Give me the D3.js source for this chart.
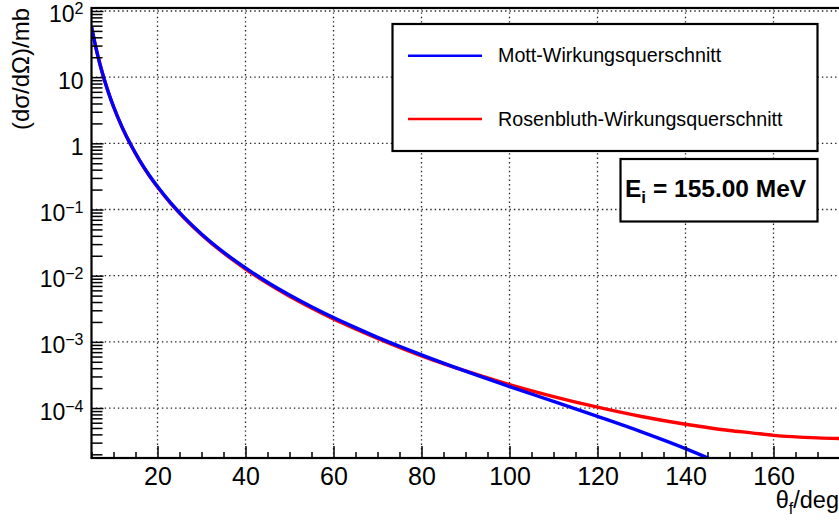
<!DOCTYPE html>
<html><head><meta charset="utf-8">
<script src="https://cdn.jsdelivr.net/npm/d3@7"></script>
<style>
body{margin:0;background:#fff;}
svg{display:block;font-family:"Liberation Sans",Arial,Helvetica,sans-serif;}
</style></head><body>
<svg id="chart" width="839" height="520"></svg>
<script>
// ---- data ----
const anglesMott = [5,6,7,8,9,10,12,14,16,18,20,23,26,30,35,40,45,50,55,60,65,70,75,80,90,100,110,120,130,140,145,150,155];
const mott = [57.9,27.9,15.0,8.81,5.50,3.60,1.73,0.933,0.545,0.339,0.222,0.126,0.0766,0.0427,0.0227,0.0131,0.00797,0.00511,0.00340,0.00233,0.00164,0.00117,0.000857,0.000635,0.000360,0.000211,0.000126,0.0000748,0.0000437,0.0000244,0.0000177,0.0000124,0.0000083];
const anglesRosen = [5,6,7,8,9,10,12,14,16,18,20,23,26,30,35,40,45,50,55,60,65,70,75,80,90,100,110,120,130,140,145,150,155,160,170,180];
const rosenbluth = [57.8,27.8,15.0,8.78,5.48,3.58,1.72,0.926,0.540,0.335,0.219,0.124,0.0751,0.0417,0.0220,0.0126,0.00765,0.00489,0.00325,0.00222,0.00157,0.00113,0.000827,0.000616,0.000363,0.000226,0.000149,0.000103,0.0000745,0.0000569,0.0000508,0.0000458,0.0000422,0.0000387,0.0000354,0.0000343];
const xTickValues = [20,40,60,80,100,120,140,160];
const xTickLabels = ["20","40","60","80","100","120","140","160"];
const yTickValues = [1e-4,1e-3,1e-2,1e-1,1,10,100];
const yTickBase = ["10","10","10","10","1","10","10"];
const yTickExp  = ["\u22124","\u22123","\u22122","\u22121","","","2"];
const seriesNames = ["Mott-Wirkungsquerschnitt","Rosenbluth-Wirkungsquerschnitt"];
const seriesColors = ["#0000ff","#ff0000"];

// ---- layout ----
const L = 91.5, T = 8, B = 458;
const pxPerDeg = 4.4;
const R = L + (180-5)*pxPerDeg;
const svg = d3.select("#chart");
const x = d3.scaleLinear().domain([5,180]).range([L,R]);
const y = d3.scaleLog().domain([Math.pow(10,-4.755), Math.pow(10,2.045)]).range([B,T]);

svg.append("defs").append("clipPath").attr("id","clip")
  .append("rect").attr("x",L).attr("y",T).attr("width",R-L).attr("height",B-T);

// grid
const grid = svg.append("g").attr("stroke","#222").attr("stroke-width",1.3).attr("stroke-dasharray","1.4,3");
grid.selectAll("line.gx").data(xTickValues).join("line")
  .attr("x1",d=>x(d)).attr("x2",d=>x(d)).attr("y1",T).attr("y2",B);
grid.selectAll("line.gy").data(yTickValues).join("line")
  .attr("x1",L).attr("x2",R).attr("y1",d=>y(d)).attr("y2",d=>y(d));

// curves
const line = d3.line().curve(d3.curveMonotoneX);
const gc = svg.append("g").attr("clip-path","url(#clip)").attr("fill","none").attr("stroke-width",3.4);
gc.append("path").attr("stroke",seriesColors[1])
  .attr("d", line(anglesRosen.map((a,i)=>[x(a), y(rosenbluth[i])])));
gc.append("path").attr("stroke",seriesColors[0])
  .attr("d", line(anglesMott.map((a,i)=>[x(a), y(mott[i])])));

// axes
const fontTick = 25;
const xMinor = d3.range(5,176,5).filter(d=>!xTickValues.includes(d));
svg.append("g").attr("transform",`translate(0,${B})`)
  .call(d3.axisBottom(x).tickValues(xMinor).tickSize(-6).tickFormat(""));
const gxMajor = svg.append("g").attr("transform",`translate(0,${B})`)
  .call(d3.axisBottom(x).tickValues(xTickValues).tickSize(-12).tickPadding(9)
    .tickFormat((d,i)=>xTickLabels[i]));
gxMajor.selectAll("text").attr("font-size",fontTick).attr("fill","#000").attr("font-family",null);

const yMinor = [];
for (let e=-5; e<=2; e++) for (let m=2; m<=9; m++) { const v=m*Math.pow(10,e); if (v>=y.domain()[0] && v<=y.domain()[1]) yMinor.push(v); }
svg.append("g").attr("transform",`translate(${L},0)`)
  .call(d3.axisLeft(y).tickValues(yMinor).tickSize(-11).tickFormat(""));
const gyMajor = svg.append("g").attr("transform",`translate(${L},0)`)
  .call(d3.axisLeft(y).tickValues(yTickValues).tickSize(-12).tickPadding(8).tickFormat(""));
gyMajor.selectAll(".tick text").each(function(d,i){
  const t = d3.select(this).attr("dy",null).attr("y",11).attr("font-family",null).attr("fill","#000");
  t.append("tspan").attr("font-size",23).text(yTickBase[i]);
  if (yTickExp[i]) t.append("tspan").attr("font-size",16).attr("dy",-8).text(yTickExp[i]);
});
svg.selectAll(".domain").remove();
svg.selectAll(".tick line").attr("stroke","#000").attr("stroke-width",1.5);

// frame
svg.append("rect").attr("x",L).attr("y",T).attr("width",R-L).attr("height",B-T)
  .attr("fill","none").attr("stroke","#000").attr("stroke-width",2.2);

// axis titles
const xt = svg.append("text").attr("x",839).attr("y",508).attr("text-anchor","end").attr("font-size",23.5);
xt.append("tspan").text("\u03b8");
xt.append("tspan").attr("font-size",16).attr("dy",6).text("f");
xt.append("tspan").attr("dy",-6).text("/deg");
svg.append("text").attr("transform","translate(29,8) rotate(-90)").attr("text-anchor","end")
  .attr("font-size",24).text("(d\u03c3/d\u03a9)/mb");

// legend
const lg = svg.append("g");
lg.append("rect").attr("x",392.5).attr("y",24).attr("width",425).attr("height",127)
  .attr("fill","#fff").attr("stroke","#000").attr("stroke-width",2.2);
const legY = [55.7,119];
seriesNames.forEach((n,i)=>{
  lg.append("line").attr("x1",408).attr("x2",482).attr("y1",legY[i]).attr("y2",legY[i])
    .attr("stroke",seriesColors[i]).attr("stroke-width",2.5);
  lg.append("text").attr("x",498).attr("y",legY[i]+6.5).attr("font-size",19.7).text(n);
});

// energy box
const eb = svg.append("g");
eb.append("rect").attr("x",620.5).attr("y",159).attr("width",197).attr("height",62.5)
  .attr("fill","#fff").attr("stroke","#000").attr("stroke-width",2.2);
const et = eb.append("text").attr("x",625).attr("y",197).attr("font-size",24.5).attr("font-weight","bold");
et.append("tspan").text("E");
et.append("tspan").attr("font-size",17).attr("dy",6).text("i");
et.append("tspan").attr("dy",-6).text(" = 155.00 MeV");
</script>
</body></html>
